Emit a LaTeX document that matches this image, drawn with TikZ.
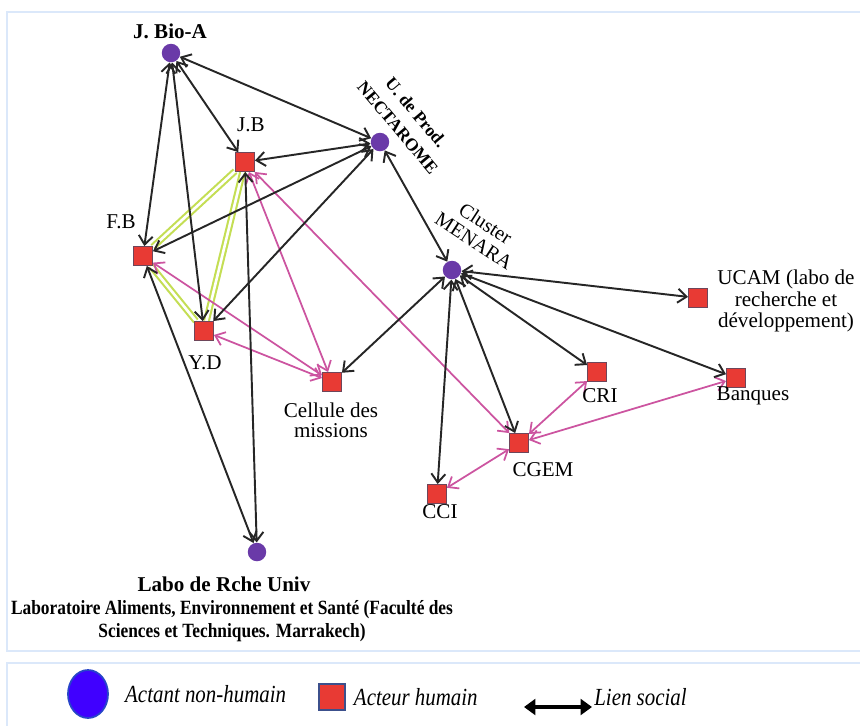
\documentclass[tikz,border=0pt]{standalone}
\usepackage{fontspec}
\setmainfont{Liberation Serif}
\newfontfamily\condfont[FakeStretch=0.86]{Liberation Serif}
\newfontfamily\legfont[FakeStretch=0.85]{Liberation Serif}
\usetikzlibrary{
  arrows.meta,
  shapes.geometric,
  positioning,
  backgrounds
}
\definecolor{actviolet}{RGB}{106,58,168}
\definecolor{actrouge}{RGB}{232,58,52}
\definecolor{actbord}{RGB}{110,70,90}
\definecolor{lienrose}{RGB}{204,84,160}
\definecolor{lienvert}{RGB}{196,222,84}
\definecolor{cadrebleu}{RGB}{219,232,250}
\definecolor{legbleu}{RGB}{64,0,255}
\definecolor{legbord}{RGB}{40,70,200}
\definecolor{legcarre}{RGB}{60,80,140}
\tikzset{
  actant/.style={
    circle, fill=actviolet, inner sep=0pt, minimum size=0.37cm
  },
  acteur/.style={
    rectangle, fill=actrouge, draw=actbord, line width=0.5pt,
    inner sep=0pt, minimum size=0.38cm
  },
  lien/.style={
    {Straight Barb[length=5pt,width=8pt]}-{Straight Barb[length=5pt,width=8pt]},
    line width=1.1pt, draw=black!85
  },
  lien rose/.style={
    lien, draw=lienrose, line width=1pt
  },
  lien vert/.style={
    draw=lienvert, double=white, double distance=1.5pt, line width=1.2pt
  },
  etiq/.style={
    font=\fontsize{12}{12}\selectfont, align=center, inner sep=0pt
  },
  cadre/.style={
    draw=cadrebleu, line width=1.3pt
  },
  legtexte/.style={
    font=\legfont\itshape\fontsize{14}{14}\selectfont, inner sep=0pt
  },
}

\begin{document}
\begin{tikzpicture}[x=0.02cm, y=-0.02cm]
  \useasboundingbox (0,0) rectangle (860,725);

  % Actants non-humains
  \node[actant] (jbioa) at (171,53) {};
  \node[actant] (nect) at (380,142) {};
  \node[actant] (menara) at (452,270) {};
  \node[actant] (labo) at (257,552) {};

  % Acteurs humains
  \node[acteur] (jb) at (245,162) {};
  \node[acteur] (fb) at (143,256) {};
  \node[acteur] (yd) at (204,331) {};
  \node[acteur] (cellule) at (332,382) {};
  \node[acteur] (ucam) at (698,298) {};
  \node[acteur] (cri) at (597,372) {};
  \node[acteur] (banques) at (736,378) {};
  \node[acteur] (cgem) at (519,443) {};
  \node[acteur] (cci) at (437,494) {};

  % Etiquettes
  \node[etiq, font=\bfseries\fontsize{12}{12}\selectfont] (t-jbioa) at (170,31) {J. Bio-A};
  \node[etiq] (t-jb) at (251,125) {J.B};
  \node[etiq] (t-fb) at (121,222) {F.B};
  \node[etiq] (t-yd) at (205,363) {Y.D};
  \node[etiq, font=\fontsize{12}{11.5}\selectfont] (t-cellule) at (331,420) {Cellule des\\missions};
  \node[etiq, font=\bfseries\fontsize{10}{13.5}\selectfont, rotate=-50]
    (t-nect) at (407,120) {U. de Prod.\\NECTAROME};
  \node[etiq, font=\fontsize{11.5}{12}\selectfont, rotate=-33]
    (t-menara) at (480,232) {Cluster\\MENARA};
  \node[etiq] (t-ucam) at (786,301) {UCAM (labo de\\recherche et\\développement)};
  \node[etiq] (t-cri) at (600,396) {CRI};
  \node[etiq] (t-banques) at (753,396) {Banques};
  \node[etiq] (t-cgem) at (543,470) {CGEM};
  \node[etiq] (t-cci) at (440,512) {CCI};
  \node[etiq, font=\bfseries\fontsize{12}{12}\selectfont] (t-labo) at (224,584) {Labo de Rche Univ};
  \node[etiq, font=\condfont\bfseries\fontsize{11.5}{13.5}\selectfont]
    (t-labo2) at (232,621) {Laboratoire Aliments, Environnement et Santé (Faculté des\\Sciences et Techniques. Marrakech)};

  % Legende
  \node[ellipse, fill=legbleu, draw=legbord, line width=1pt,
        minimum width=0.8cm, minimum height=0.96cm] (leg-actant) at (88,694) {};
  \node[legtexte, anchor=west, right=0.32cm of leg-actant] (leg-t1) {Actant non-humain};
  \node[rectangle, fill=actrouge, draw=legcarre, line width=1.3pt,
        minimum size=0.52cm, inner sep=0pt] (leg-acteur) at (332,697) {};
  \node[legtexte, anchor=west, right=0.15cm of leg-acteur] (leg-t2) {Acteur humain};
  \coordinate (leg-g) at (524,707);
  \coordinate (leg-d) at (592,707);
  \node[legtexte, anchor=west] (leg-t3) at (594,697) {Lien social};
  \draw[{Triangle[length=6.5pt,width=9pt]}-{Triangle[length=6.5pt,width=9pt]}, line width=1.9pt]
    (leg-g) -- (leg-d);

  \begin{scope}[on background layer]
    % Cadres
    \draw[cadre] (7,12) rectangle (870,651);
    \draw[cadre] (7,663) rectangle (870,735);

    % Liens forts
    \draw[lien vert] (jb) -- (fb);
    \draw[lien vert] (jb) -- (yd);
    \draw[lien vert] (fb) -- (yd);

    % Liens roses
    \draw[lien rose] (jb) -- (cellule);
    \draw[lien rose] (jb) -- (cgem);
    \draw[lien rose] (fb) -- (cellule);
    \draw[lien rose] (yd) -- (cellule);
    \draw[lien rose] (cgem) -- (cri);
    \draw[lien rose] (cgem) -- (banques);
    \draw[lien rose] (cgem) -- (cci);

    % Liens sociaux
    \draw[lien] (jbioa) -- (nect);
    \draw[lien] (jbioa) -- (jb);
    \draw[lien] (jbioa) -- (fb);
    \draw[lien] (jbioa) -- (yd);
    \draw[lien] (jb) -- (nect);
    \draw[lien] (fb) -- (nect);
    \draw[lien] (yd) -- (nect);
    \draw[lien] (nect) -- (menara);
    \draw[lien] (cellule) -- (menara);
    \draw[lien] (jb) -- (labo);
    \draw[lien] (fb) -- (labo);
    \draw[lien] (menara) -- (ucam);
    \draw[lien] (menara) -- (cri);
    \draw[lien] (menara) -- (banques);
    \draw[lien] (menara) -- (cgem);
    \draw[lien] (menara) -- (cci);
  \end{scope}

\end{tikzpicture}
\end{document}
